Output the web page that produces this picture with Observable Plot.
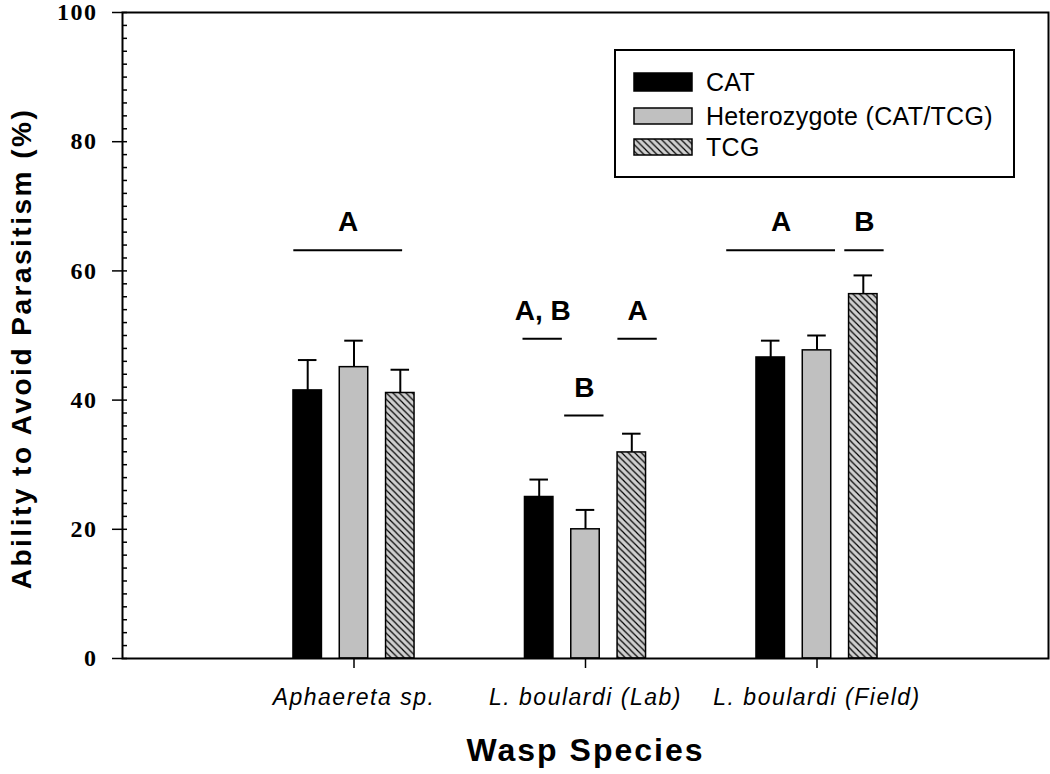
<!DOCTYPE html>
<html><head><meta charset="utf-8">
<script src="https://cdn.jsdelivr.net/npm/d3@7"></script>
<script src="https://cdn.jsdelivr.net/npm/@observablehq/plot@0.6"></script>
<style>
body{margin:0;background:#fff;}
#wrap{position:relative;width:1050px;height:774px;}
#legend{position:absolute;left:614px;top:49px;width:397px;height:125px;border:2px solid #000;background:#fff;font-family:"Liberation Sans",Arial,sans-serif;font-size:25px;letter-spacing:0.3px;color:#000;}
.row{position:absolute;left:17px;height:20px;display:flex;align-items:center;white-space:nowrap;}
.row svg{margin-right:13px;}
g[aria-label="x-axis tick label"] text{letter-spacing:1.5px;}
g[aria-label="y-axis tick label"] text{letter-spacing:1.5px;}
</style></head><body><div id="wrap"><div id="legend"></div></div>
<script>
// ---- data ----
const species = ["Aphaereta sp.", "L. boulardi (Lab)", "L. boulardi (Field)"];
const genotypes = ["CAT", "Heterozygote (CAT/TCG)", "TCG"];
const meanCAT = [41.5, 25.0, 46.6];
const meanHet = [45.1, 20.0, 47.7];
const meanTCG = [41.1, 31.9, 56.4];
const seCAT = [4.7, 2.7, 2.6];
const seHet = [4.1, 3.0, 2.3];
const seTCG = [3.6, 2.9, 2.9];
const yTicks = [0, 20, 40, 60, 80, 100];
const yTitle = "Ability to Avoid Parasitism (%)";
const xTitle = "Wasp Species";
// significance groupings (label, span on category axis, level in %)
const sigLabels = ["A", "A, B", "B", "A", "A", "B"];
const sigFrom = [0.74, 1.73, 1.91, 2.14, 2.61, 3.12];
const sigTo = [1.21, 1.90, 2.08, 2.31, 3.08, 3.29];
const sigLevel = [63.2, 49.5, 37.6, 49.5, 63.2, 63.2];

// ---- styles / layout ----
const fills = ["#000000", "#c0c0c0", "url(#hatch)"];
const offset = 0.2, half = 0.0615, cap = 0.04;

const means = [meanCAT, meanHet, meanTCG];
const ses = [seCAT, seHet, seTCG];
const rows = [];
species.forEach((s, i) => genotypes.forEach((g, j) => rows.push({
  species: s, g: j, x: i + 1 + (j - 1) * offset, mean: means[j][i], se: ses[j][i]
})));
const sig = sigLabels.map((t, i) => ({t, x1: sigFrom[i], x2: sigTo[i], y: sigLevel[i]}));

const chart = Plot.plot({
  width: 1050, height: 774,
  marginTop: 12, marginBottom: 116, marginLeft: 122, marginRight: 2,
  style: {background: "#fff", color: "#000"},
  x: {type: "linear", domain: [0, 4]},
  y: {domain: [0, 100]},
  color: {type: "identity"},
  marks: [
    Plot.axisY({ticks: d3.range(0, 101, 2), tickSize: -5, text: null, strokeWidth: 1.5}),
    Plot.axisY({ticks: yTicks, tickSize: 10, tickPadding: 15, label: null, strokeWidth: 1.5,
      fontFamily: "'Liberation Serif','Times New Roman',serif", fontWeight: "bold", fontSize: 24}),
    Plot.axisX({ticks: [1, 2, 3], tickFormat: d => species[d - 1], tickSize: 10, tickPadding: 20, label: null, strokeWidth: 1.5,
      fontFamily: "'Liberation Sans',Arial,sans-serif", fontStyle: "italic", fontSize: 23}),
    Plot.rectY(rows, {x1: d => d.x - half, x2: d => d.x + half, y1: 0, y2: "mean", fill: d => fills[d.g], stroke: "#000", strokeWidth: 1.5}),
    Plot.ruleX(rows, {x: "x", y1: "mean", y2: d => d.mean + d.se, stroke: "#000", strokeWidth: 2}),
    Plot.ruleY(rows, {y: d => d.mean + d.se, x1: d => d.x - cap, x2: d => d.x + cap, stroke: "#000", strokeWidth: 2}),
    Plot.ruleY(sig, {y: "y", x1: "x1", x2: "x2", stroke: "#000", strokeWidth: 2}),
    Plot.text(sig, {x: d => (d.x1 + d.x2) / 2, y: "y", text: "t", dy: -28, fontSize: 28, fontWeight: "bold",
      fontFamily: "'Liberation Sans',Arial,sans-serif", fill: "#000"}),
    Plot.text([yTitle], {frameAnchor: "left", textAnchor: "middle", rotate: -90, dx: -100, dy: 13,
      fontSize: 28, fontWeight: "bold", fontFamily: "'Liberation Sans',Arial,sans-serif", fill: "#000"}),
    Plot.text([xTitle], {frameAnchor: "bottom", dy: 102, fontSize: 32, fontWeight: "bold",
      fontFamily: "'Liberation Sans',Arial,sans-serif", fill: "#000"}),
    Plot.frame({stroke: "#000", strokeWidth: 2})
  ]
});

// letter spacing for the axis titles (as in the original export)
d3.select(chart).selectAll("text").each(function () {
  if (this.textContent === yTitle) this.style.letterSpacing = "2.5px";
  if (this.textContent === xTitle) this.style.letterSpacing = "2px";
});

// hatch pattern definition
const defs = d3.select(chart).insert("defs", ":first-child");
const pat = defs.append("pattern").attr("id", "hatch").attr("patternUnits", "userSpaceOnUse")
  .attr("width", 6.5).attr("height", 6.5);
pat.append("rect").attr("width", 6.5).attr("height", 6.5).attr("fill", "#cfcfcf");
pat.append("path").attr("d", "M-1,-1L7.5,7.5M-1,5.5L1,7.5M5.5,-1L7.5,1").attr("stroke", "#000").attr("stroke-width", 1.2);

document.getElementById("wrap").prepend(chart);

// legend
const legend = d3.select("#legend");
const rowTops = [21, 55, 86];
genotypes.forEach((g, j) => {
  const r = legend.append("div").attr("class", "row").style("top", rowTops[j] + "px");
  const sw = r.append("svg").attr("width", 60).attr("height", 20);
  sw.append("rect").attr("x", 1).attr("y", j === 0 ? 1 : 2).attr("width", 58).attr("height", j === 0 ? 18 : 16)
    .attr("fill", fills[j]).attr("stroke", "#000").attr("stroke-width", 1.5);
  r.append("span").text(g);
});
</script></body></html>
